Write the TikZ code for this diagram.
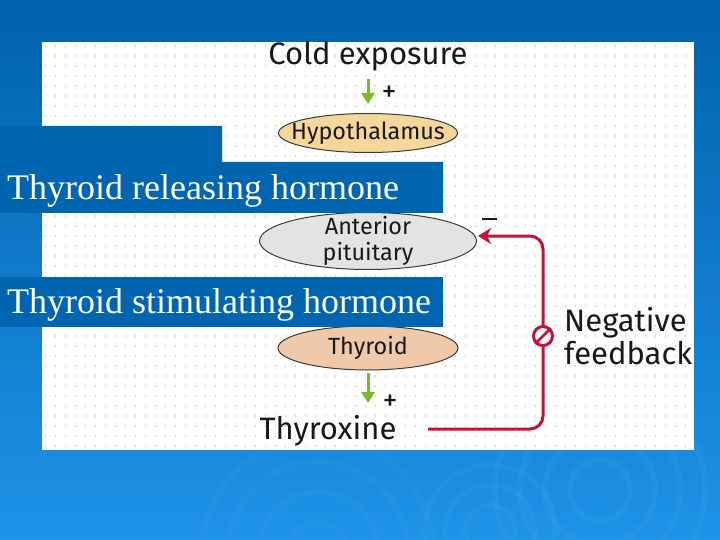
\documentclass[tikz,border=0pt]{standalone}
\usepackage{fontspec}
\setmainfont{Liberation Serif}
\newfontfamily\diag{Fira Sans}
\usetikzlibrary{shapes.geometric,arrows.meta}
\definecolor{bgtop}{HTML}{0062AC}
\definecolor{bgbot}{HTML}{1E93E8}
\definecolor{boxblue}{HTML}{0065B1}
\definecolor{hypofill}{HTML}{F5D79C}
\definecolor{antfill}{HTML}{E3E3E3}
\definecolor{thyfill}{HTML}{EFC9A9}
\definecolor{gArrow}{HTML}{7DBB27}
\definecolor{fbred}{HTML}{C5123A}
\definecolor{edge}{HTML}{3A3A3A}
\tikzset{
  ell/.style={ellipse, draw=edge, line width=1pt, inner sep=0pt},
  elltext/.style={font=\diag\fontsize{23.4}{26}\selectfont, text=black!90, align=center, inner sep=0pt},
  big/.style={font=\diag\fontsize{31}{33}\selectfont, text=black!90, inner sep=0pt},
  plussign/.style={font=\diag\fontsize{30}{30}\selectfont, text=black!90, inner sep=0pt},
  garrow/.style={draw=gArrow, line width=3pt, -{Triangle[width=13pt,length=11pt]}},
  fbline/.style={draw=fbred, line width=3pt, rounded corners=13pt, -{Stealth[width=16pt,length=13pt,inset=4pt]}},
  hbox/.style={anchor=base west, text=white, font=\fontsize{36}{40}\selectfont, inner sep=0pt}
}
\begin{document}
\begin{tikzpicture}[x=1pt,y=-1pt]
\useasboundingbox (0,0) rectangle (720,540);
\shade[top color=bgtop, bottom color=bgbot] (0,0) rectangle (720,540);
% faint ripples
\foreach \r in {30,55,80,105} {\draw[white, opacity=0.035, line width=6pt] (600,490) circle (\r);}
\foreach \r in {25,45,65} {\draw[white, opacity=0.03, line width=5pt] (490,530) circle (\r);}
\foreach \r in {30,60,90,115} {\draw[white, opacity=0.025, line width=6pt] (318,552) circle (\r);}
% panel
\fill[white] (42,42) rectangle (694,450);
\foreach \x in {45,55,...,685} {\foreach \y in {45,55,...,445} {\fill[black!18] (\x,\y) rectangle ++(0.9,1.8);}}
% nodes
\node[big] (cold) at (368,56) {Cold exposure};
\node[ell, fill=hypofill, minimum width=179pt, minimum height=39pt] (hyp) at (368,133) {};
\node[elltext] (hypt) at (hyp.center) {Hypothalamus};
\node[ell, fill=antfill, minimum width=217pt, minimum height=57pt] (ant) at (368,241) {};
\node[elltext] (antt) at (ant.center) {Anterior\\pituitary};
\node[ell, fill=thyfill, minimum width=180pt, minimum height=44pt] (thy) at (368,348) {};
\node[elltext] (thyt) at (thy.center) {Thyroid};
\node[big] (thx) at (328,431) {Thyroxine};
\node[plussign] (p1) at (389,94) {+};
\node[plussign] (p2) at (390,403) {+};
\draw[black!90, line width=2pt] (482,219) -- (497,219);
% green arrows
\draw[garrow] (368,79) -- (368,104);
\draw[garrow, shorten <=2pt] (thy.south) -- (368,403);
% feedback line
\coordinate (fbs) at (428,429);
\coordinate (fbe) at (478,236);
\draw[fbline] (fbs) -- (543,429) -- (543,236) -- (fbe);
\node[circle, draw=fbred, line width=3pt, fill=white, minimum size=19pt, inner sep=0pt] (stop) at (543,336) {};
\draw[fbred, line width=2.6pt] (stop.south west) -- (stop.north east);
\node[big, anchor=west, align=left] (neg) at (564,336) {Negative\\feedback};
% overlay boxes
\fill[boxblue] (0,126) -- (222,126) -- (222,162) -- (443,162) -- (443,213) -- (0,213) -- cycle;
\node[hbox] (trh) at (7,200) {Thyroid releasing hormone};
\fill[boxblue] (0,277) rectangle (443,327);
\node[hbox] (tsh) at (7,313) {Thyroid stimulating hormone};
\end{tikzpicture}
\end{document}
